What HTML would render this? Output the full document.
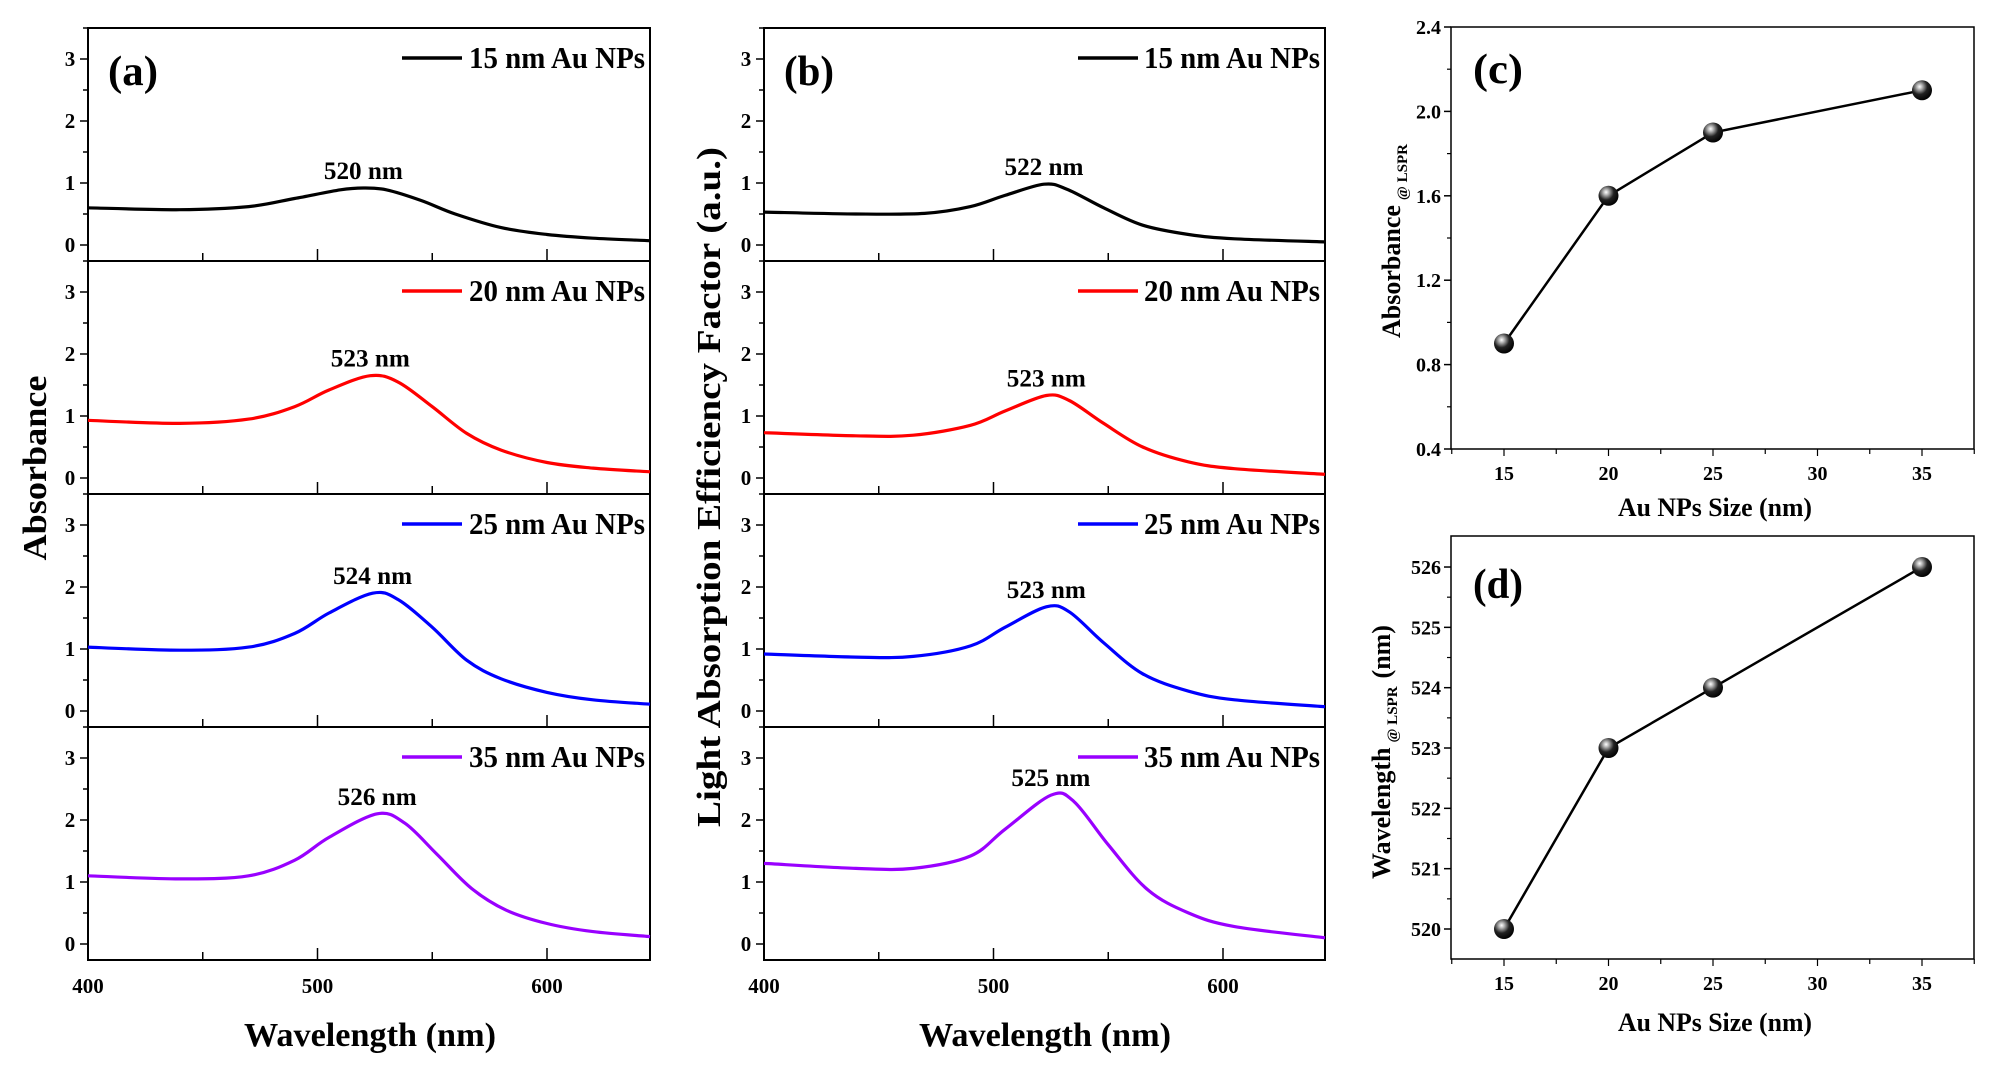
<!DOCTYPE html>
<html><head><meta charset="utf-8"><style>
html,body{margin:0;padding:0;background:#fff}
svg{display:block}
text{font-family:"Liberation Serif",serif;font-weight:bold;fill:#000}
</style></head><body>
<svg id="s" width="2001" height="1073" viewBox="0 0 2001 1073" xmlns="http://www.w3.org/2000/svg">
<defs>
<radialGradient id="ball" cx="0.38" cy="0.32" r="0.7">
<stop offset="0" stop-color="#fff"/><stop offset="0.18" stop-color="#bbb"/><stop offset="0.55" stop-color="#222"/><stop offset="1" stop-color="#000"/>
</radialGradient>
</defs>
<g id="g"></g>
<text x="0" y="0" font-size="34" transform="translate(46,468) rotate(-90)" text-anchor="middle" textLength="185" lengthAdjust="spacingAndGlyphs">Absorbance</text>
<text x="0" y="0" font-size="34" transform="translate(720,487) rotate(-90)" text-anchor="middle" textLength="680" lengthAdjust="spacingAndGlyphs">Light Absorption Efficiency Factor (a.u.)</text>
<text x="370" y="1046" font-size="34" text-anchor="middle" textLength="252" lengthAdjust="spacingAndGlyphs">Wavelength (nm)</text>
<text x="1045" y="1046" font-size="34" text-anchor="middle" textLength="252" lengthAdjust="spacingAndGlyphs">Wavelength (nm)</text>
<text x="1715" y="516" font-size="26" text-anchor="middle" textLength="194" lengthAdjust="spacingAndGlyphs">Au NPs Size (nm)</text>
<text x="1715" y="1031" font-size="26" text-anchor="middle" textLength="194" lengthAdjust="spacingAndGlyphs">Au NPs Size (nm)</text>
<text transform="translate(1400,241) rotate(-90)" font-size="26" text-anchor="middle">Absorbance<tspan font-size="15" dx="5" dy="7">@ LSPR</tspan></text>
<text transform="translate(1390,752) rotate(-90)" font-size="26" text-anchor="middle">Wavelength<tspan font-size="15" dx="5" dy="7">@ LSPR</tspan><tspan dy="-7" dx="8">(nm)</tspan></text>
</svg>
<script>
var g=document.getElementById('g');var out='';
function cr(pts){var d='M'+pts[0][0].toFixed(1)+','+pts[0][1].toFixed(1);
for(var i=0;i<pts.length-1;i++){var p0=pts[Math.max(0,i-1)],p1=pts[i],p2=pts[i+1],p3=pts[Math.min(pts.length-1,i+2)];
var c1=[p1[0]+(p2[0]-p0[0])/6,p1[1]+(p2[1]-p0[1])/6],c2=[p2[0]-(p3[0]-p1[0])/6,p2[1]-(p3[1]-p1[1])/6];
d+='C'+c1[0].toFixed(1)+','+c1[1].toFixed(1)+' '+c2[0].toFixed(1)+','+c2[1].toFixed(1)+' '+p2[0].toFixed(1)+','+p2[1].toFixed(1);}return d;}
var tops=[28,261,494,727],bottom=960;
var cols=['#000','#ff0000','#0000ff','#9900ff'];
var names=['15','20','25','35'];
var A=[
[[400,.6],[440,.57],[470,.62],[490,.75],[510,.89],[520,.92],[530,.89],[545,.72],[560,.5],[580,.28],[600,.17],[620,.11],[644,.07]],
[[400,.93],[440,.88],[470,.95],[490,1.15],[505,1.42],[523,1.65],[535,1.55],[550,1.15],[565,.72],[580,.45],[600,.25],[620,.16],[644,.1]],
[[400,1.03],[440,.98],[470,1.03],[490,1.25],[505,1.58],[524,1.9],[535,1.8],[550,1.35],[565,.82],[580,.52],[600,.3],[620,.18],[644,.11]],
[[400,1.1],[440,1.05],[470,1.1],[490,1.35],[505,1.72],[526,2.1],[538,1.95],[552,1.45],[567,.9],[582,.55],[600,.33],[620,.2],[644,.12]]];
var B=[
[[400,.53],[440,.5],[470,.51],[490,.62],[505,.8],[522,.98],[532,.9],[548,.6],[565,.32],[585,.17],[605,.1],[644,.05]],
[[400,.73],[440,.68],[465,.69],[490,.85],[505,1.08],[523,1.33],[533,1.25],[548,.88],[565,.5],[585,.26],[605,.15],[644,.06]],
[[400,.92],[440,.87],[465,.88],[490,1.05],[505,1.35],[523,1.68],[533,1.6],[548,1.1],[565,.6],[585,.32],[605,.18],[644,.07]],
[[400,1.3],[440,1.22],[465,1.22],[490,1.42],[505,1.85],[525,2.4],[535,2.3],[550,1.6],[567,.88],[585,.5],[605,.28],[644,.1]]];
var peaksA=[520,523,524,526],peaksB=[522,523,523,525];
function panel(L,R,data,peaks,lab){
 var k=2.295;
 for(var i=0;i<4;i++){var T=tops[i],Bt=(i<3?tops[i+1]:bottom),z=T+217;
  out+='<rect x="'+L+'" y="'+T+'" width="'+(R-L)+'" height="'+(Bt-T)+'" fill="none" stroke="#000" stroke-width="2"/>';
  for(var v=0;v<=3.5;v+=0.5){var y=z-v*62;var len=(v%1==0)?8:5;out+='<line x1="'+(L-len)+'" y1="'+y+'" x2="'+L+'" y2="'+y+'" stroke="#000" stroke-width="1.5"/>';
   if(v%1==0)out+='<text x="'+(L-18)+'" y="'+(y+7)+'" font-size="21" text-anchor="middle">'+v+'</text>';}
  for(var w=450;w<=600;w+=50){var x=L+(w-400)*k;var len=(w%100==0)?12:8;out+='<line x1="'+x+'" y1="'+Bt+'" x2="'+x+'" y2="'+(Bt-len)+'" stroke="#000" stroke-width="1.5"/>';}
  var pts=data[i].map(function(p){return [L+(p[0]-400)*k,z-p[1]*62];});pts[pts.length-1][0]=R;
  out+='<path d="'+cr(pts)+'" fill="none" stroke="'+cols[i]+'" stroke-width="3.2"/>';
  var pk=peaks[i],pv=Math.max.apply(null,data[i].map(function(p){return p[1]}));
  out+='<text x="'+(L+(pk-400)*k)+'" y="'+(z-pv*62-9)+'" font-size="25" text-anchor="middle" textLength="79" lengthAdjust="spacingAndGlyphs">'+pk+' nm</text>';
  out+='<line x1="'+(L+314)+'" y1="'+(T+30)+'" x2="'+(L+374)+'" y2="'+(T+30)+'" stroke="'+cols[i]+'" stroke-width="3.5"/>';
  out+='<text x="'+(R-5)+'" y="'+(T+40)+'" font-size="31" text-anchor="end" textLength="176" lengthAdjust="spacingAndGlyphs">'+names[i]+' nm Au NPs</text>';
 }
 out+='<text x="'+(L+20)+'" y="'+(tops[0]+57)+'" font-size="42" textLength="50" lengthAdjust="spacingAndGlyphs">'+lab+'</text>';
 [400,500,600].forEach(function(w){out+='<text x="'+(L+(w-400)*k)+'" y="993" font-size="21" text-anchor="middle">'+w+'</text>';});
}
panel(88,650,A,peaksA,'(a)');
panel(764,1325,B,peaksB,'(b)');
function sc(T,Bt,vmin,vmax,ticks,minor,fmt,data,lab,labY){
 var L=1451,R=1974;function X(s){return 1504+(s-15)*20.9;}function Y(v){return Bt-(v-vmin)/(vmax-vmin)*(Bt-T);}
 out+='<rect x="'+L+'" y="'+T+'" width="'+(R-L)+'" height="'+(Bt-T)+'" fill="none" stroke="#000" stroke-width="1.5"/>';
 ticks.forEach(function(v){out+='<line x1="'+(L-7)+'" y1="'+Y(v)+'" x2="'+L+'" y2="'+Y(v)+'" stroke="#000" stroke-width="1.5"/><text x="'+(L-10)+'" y="'+(Y(v)+7)+'" font-size="20" text-anchor="end">'+fmt(v)+'</text>';});
 minor.forEach(function(v){out+='<line x1="'+(L-4)+'" y1="'+Y(v)+'" x2="'+L+'" y2="'+Y(v)+'" stroke="#000" stroke-width="1.2"/>';});
 for(var s=12.5;s<=37.5;s+=2.5){var x=X(s);var maj=(s%5==0);out+='<line x1="'+x+'" y1="'+Bt+'" x2="'+x+'" y2="'+(Bt+(maj?7:5))+'" stroke="#000" stroke-width="1.2"/>';
  if(maj&&s>=15&&s<=35)out+='<text x="'+x+'" y="'+(Bt+31)+'" font-size="20" text-anchor="middle">'+s+'</text>';}
 var d='';data.forEach(function(p,i){d+=(i?'L':'M')+X(p[0])+','+Y(p[1]);});
 out+='<path d="'+d+'" fill="none" stroke="#000" stroke-width="2.5"/>';
 data.forEach(function(p){out+='<circle cx="'+X(p[0])+'" cy="'+Y(p[1])+'" r="10" fill="url(#ball)"/>';});
 out+='<text x="1473" y="'+labY+'" font-size="42" textLength="50" lengthAdjust="spacingAndGlyphs">'+lab+'</text>';
}
sc(27,449,0.4,2.4,[0.4,0.8,1.2,1.6,2.0,2.4],[0.6,1.0,1.4,1.8,2.2],function(v){return v.toFixed(1)},[[15,.9],[20,1.6],[25,1.9],[35,2.1]],'(c)',83);
var Td=536,Bd=959,vmin=520-(Bd-929)/60.33,vmax=520+(929-Td)/60.33;
sc(Td,Bd,vmin,vmax,[520,521,522,523,524,525,526],[520.5,521.5,522.5,523.5,524.5,525.5],function(v){return v},[[15,520],[20,523],[25,524],[35,526]],'(d)',598);
g.innerHTML=out;
</script>
</body></html>
